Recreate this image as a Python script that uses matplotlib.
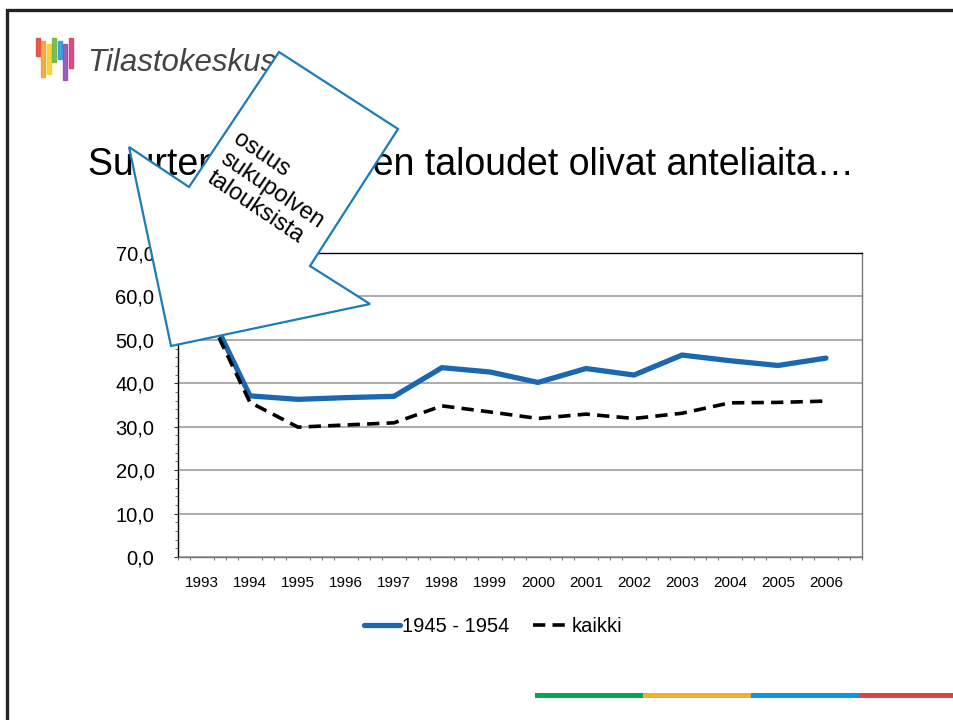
import numpy as np
import matplotlib
matplotlib.use("Agg")
from matplotlib import pyplot as plt
from matplotlib.patches import Polygon, Rectangle
from matplotlib.lines import Line2D

plt.rcParams['font.family'] = ['Liberation Sans', 'DejaVu Sans']

years = ['1993', '1994', '1995', '1996', '1997', '1998', '1999',
         '2000', '2001', '2002', '2003', '2004', '2005', '2006']
gen_1945_1954 = [60.0, 37.1, 36.3, 36.7, 37.0, 43.6, 42.6,
                 40.2, 43.4, 41.9, 46.5, 45.2, 44.1, 45.8]
kaikki = [58.6, 35.6, 29.9, 30.4, 30.9, 34.8, 33.4,
          31.9, 32.9, 31.9, 33.1, 35.5, 35.6, 35.9]
series_names = ['1945 - 1954', 'kaikki']
title = 'Suurten ikäluokkien taloudet olivat anteliaita…'
callout = 'osuus\nsukupolven\ntalouksista'
logo_text = 'Tilastokeskus'

W, H = 954, 720
fig = plt.figure(figsize=(W / 100, H / 100), dpi=100)


def fx(px):
    return px / W


def fy(py):
    return 1 - py / H


# chart area
left, right, top, bottom = 178, 862, 253, 557
ax = fig.add_axes([fx(left), fy(bottom), fx(right - left), (bottom - top) / H])
x = np.arange(len(years))
ax.plot(x, gen_1945_1954, color='#1c68b0', lw=3.8, solid_capstyle='round',
        solid_joinstyle='miter', zorder=3)
ax.plot(x, kaikki, color='black', lw=2.6, dashes=(3.4, 2.0), zorder=3)
ax.set_xlim(-0.5, len(years) - 0.5)
ax.set_ylim(0, 70)
ax.set_yticks(np.arange(0, 71, 10))
ax.set_yticklabels([f'{v:.1f}'.replace('.', ',') for v in np.arange(0, 71, 10)],
                   fontsize=14.5)
ax.set_xticks(x)
ax.set_xticklabels(years, fontsize=11)
ax.set_yticks(np.arange(0, 71, 2), minor=True)
ax.set_xticks(np.arange(-0.5, len(years), 0.25), minor=True)
ax.tick_params(axis='x', which='major', length=0, pad=14)
ax.tick_params(axis='x', which='minor', length=2, width=0.6, color='#555555')
ax.tick_params(axis='y', which='major', length=3, pad=14, color='#333333')
ax.tick_params(axis='y', which='minor', length=2, width=0.6, color='#555555')
ax.grid(axis='y', color='#a6a6a6', lw=1.3)
ax.set_axisbelow(True)
for s in ax.spines.values():
    s.set_linewidth(1.0)
ax.spines['right'].set_color('#777777')
ax.spines['bottom'].set_color('#777777')

handles = [Line2D([], [], color='#1c68b0', lw=3.8, solid_capstyle='round'),
           Line2D([], [], color='black', lw=2.6, dashes=(3.4, 2.0))]
fig.legend(handles, series_names, loc='center', ncol=2, frameon=False,
           bbox_to_anchor=(fx(493), fy(627)), fontsize=14.5,
           handlelength=1.8, handletextpad=0.1, columnspacing=1.2)

# overlay for slide decorations
ov = fig.add_axes([0, 0, 1, 1])
ov.set_xlim(0, W)
ov.set_ylim(H, 0)
ov.axis('off')

# slide frame
ov.plot([7, 7, W], [H, 10, 10], color='#222222', lw=2.4, solid_joinstyle='miter')

# logo
logo_cols = ['#e0403a', '#f39c1f', '#f7d117', '#6ab23e', '#1b9ad6', '#8e44ad', '#d6336c']
for i, c in enumerate(logo_cols):
    h = 18 + 6 * ((i * 3) % 4)
    ov.add_patch(Rectangle((36 + i * 5.5, 38 + (i % 3) * 3), 4, h, color=c, alpha=0.85))
ov.text(87, 71, logo_text, fontsize=22.5, style='italic', color='#444444',
        va='baseline', ha='left')

# title
ov.text(88, 175, title, fontsize=27, color='black', va='baseline', ha='left')

# callout arrow
arrow_pts = [(279, 52), (398, 129), (310, 266), (370, 304), (171, 346),
             (129, 147), (189, 187)]
ov.add_patch(Polygon(arrow_pts, closed=True, facecolor='white',
                     edgecolor='#1a7db5', lw=1.6, zorder=5))
ov.text(272, 190, callout, rotation=-34, fontsize=17, ha='center', va='center',
        multialignment='left', linespacing=1.1, rotation_mode='anchor', zorder=6)

# bottom colour bar
bar_cols = ['#00a651', '#f5ae25', '#0b96e0', '#e04048']
for i, c in enumerate(bar_cols):
    ov.add_patch(Rectangle((535 + i * 108, 693), 108, 5, color=c, lw=0))

fig.savefig('out.png', dpi=100)
